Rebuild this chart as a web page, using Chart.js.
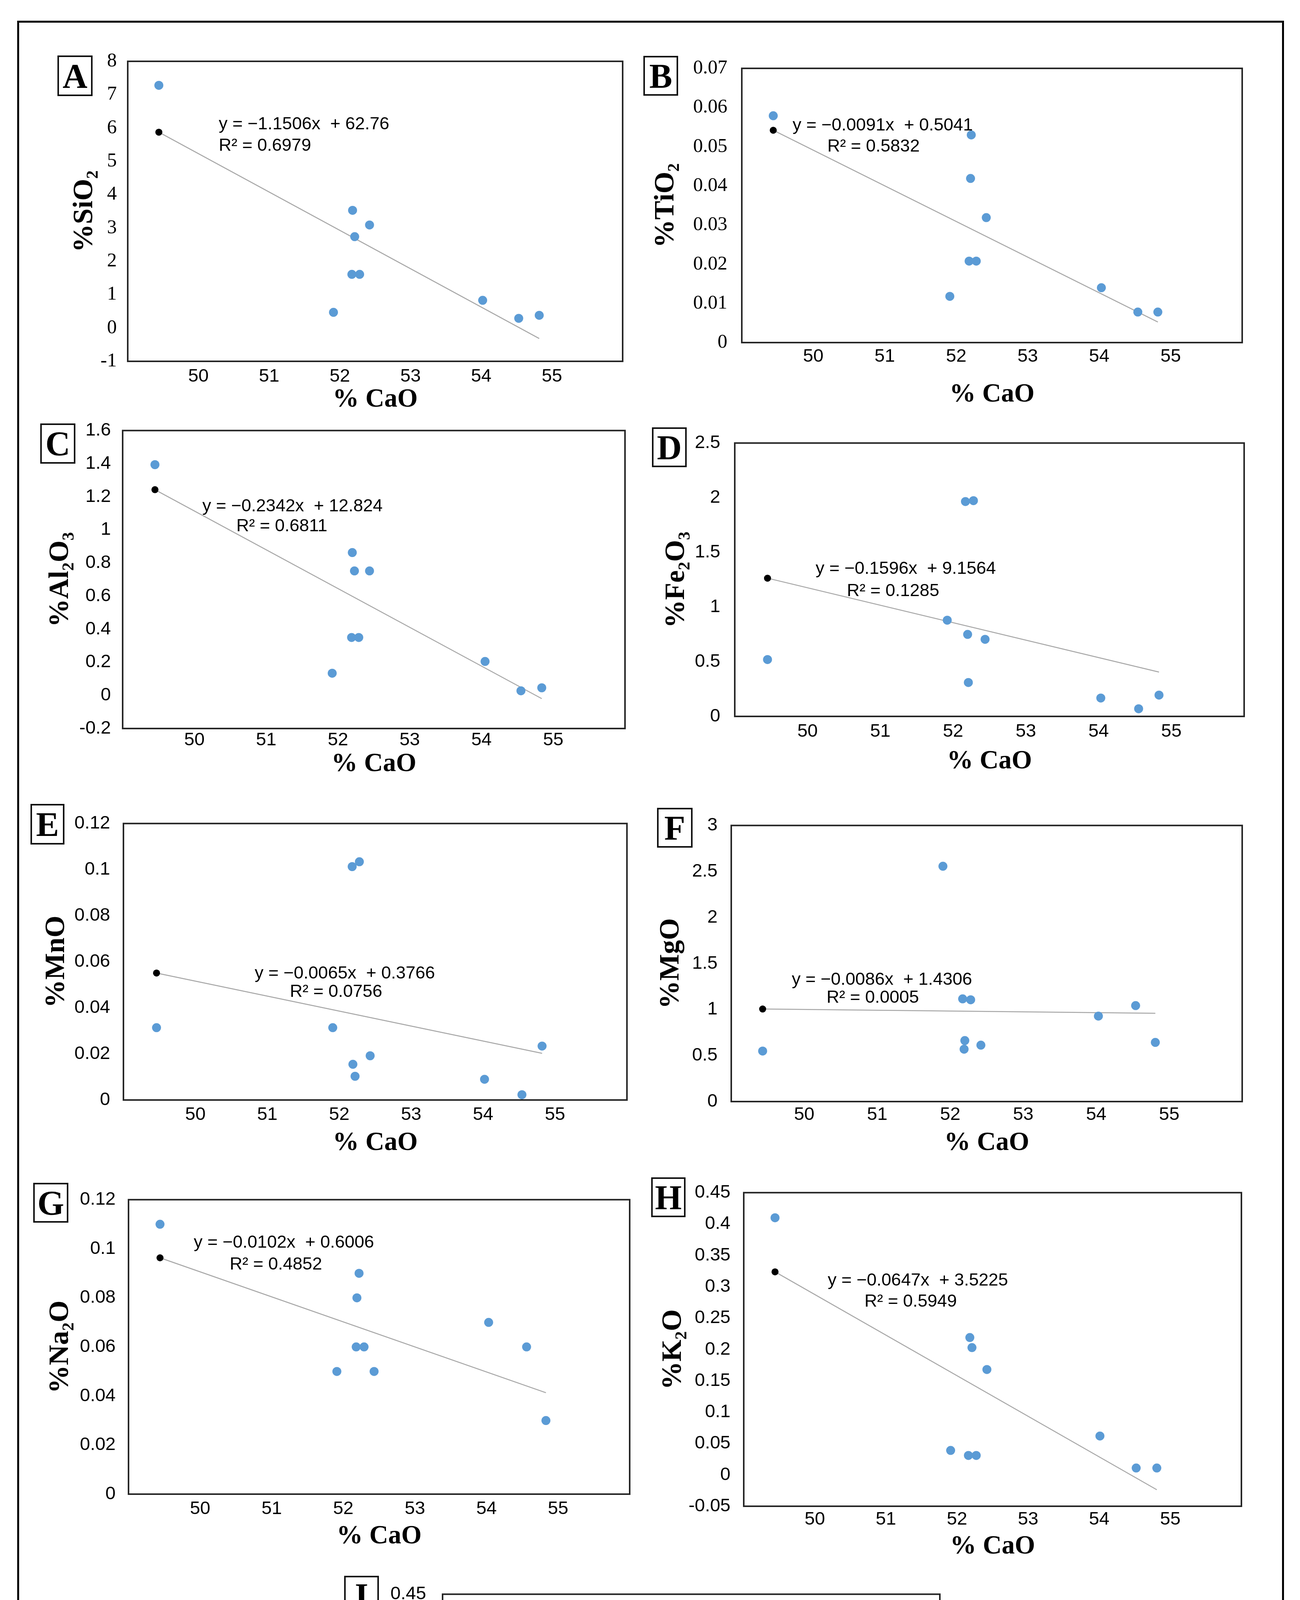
<!DOCTYPE html>
<html>
<head>
<meta charset="utf-8">
<script src="https://cdn.jsdelivr.net/npm/chart.js@4.4.1/dist/chart.umd.min.js"></script>
<style>
  body { margin: 0; width: 3328px; height: 5090px; background: #fff; position: relative; overflow: hidden; }
  #frame { position: absolute; left: 44px; top: 53px; width: 3243px; height: 4988px; border: 5px solid #000; box-sizing: border-box; }
  .tag { position: absolute; border: 4px solid #111; box-sizing: border-box; font: bold 88px "Liberation Serif", serif; display: flex; align-items: center; justify-content: center; background: #fff; color: #000; }
  canvas { position: absolute; }
</style>
</head>
<body>
<div id="frame"></div>
<script>
// % CaO values as read for each panel (x) and the oxide values (y)
const caoA = [49.44, 52.18, 52.42, 52.21, 52.17, 52.28, 51.91, 54.02, 54.53, 54.82];
const sio2 = [7.28, 3.53, 3.09, 2.74, 1.61, 1.61, 0.47, 0.83, 0.29, 0.38];

const caoB = [49.44, 52.21, 52.2, 52.42, 52.18, 52.28, 51.91, 54.03, 54.54, 54.82];
const tio2 = [0.0579, 0.053, 0.0419, 0.0319, 0.0208, 0.0208, 0.0118, 0.014, 0.0078, 0.0078];

const caoC = [49.45, 52.2, 52.23, 52.44, 52.19, 52.29, 51.92, 54.05, 54.55, 54.84];
const al2o3 = [1.394, 0.863, 0.752, 0.752, 0.35, 0.35, 0.134, 0.205, 0.028, 0.046];

const caoD = [49.45, 52.17, 52.28, 51.92, 52.2, 52.44, 52.21, 54.03, 54.55, 54.83];
const fe2o3 = [0.52, 1.965, 1.973, 0.88, 0.75, 0.705, 0.31, 0.168, 0.07, 0.195];

const caoE = [49.46, 52.18, 52.28, 51.91, 52.19, 52.22, 52.43, 54.02, 54.54, 54.82];
const mno = [0.0314, 0.1013, 0.1034, 0.0314, 0.0155, 0.0103, 0.0192, 0.009, 0.0023, 0.0234];

const caoF = [49.43, 51.9, 52.17, 52.28, 52.2, 52.19, 52.42, 54.03, 54.54, 54.81];
const mgo = [0.549, 2.557, 1.116, 1.106, 0.663, 0.569, 0.613, 0.929, 1.043, 0.643];

const caoG = [49.44, 52.22, 52.19, 52.18, 52.29, 51.91, 52.43, 54.03, 54.56, 54.83];
const na2o = [0.11, 0.09, 0.08, 0.06, 0.06, 0.05, 0.05, 0.07, 0.06, 0.03];

const caoH = [49.44, 52.18, 52.21, 52.42, 51.91, 52.16, 52.27, 54.01, 54.52, 54.81];
const k2o = [0.41, 0.219, 0.203, 0.168, 0.039, 0.031, 0.031, 0.062, 0.011, 0.011];

const caoI = [49.43, 52.18, 52.21, 52.42, 51.91, 52.16, 52.27, 54.02, 54.53, 54.82];
const p2o5 = [0.41, 0.22, 0.204, 0.169, 0.039, 0.031, 0.031, 0.062, 0.01, 0.01];

// linear trendlines (Excel)
const slopes = [-1.1506, -0.0091, -0.2342, -0.1596, -0.0065, -0.0086, -0.0102, -0.0647, -0.0647];
const intercepts = [62.76, 0.5041, 12.824, 9.1564, 0.3766, 1.4306, 0.6006, 3.5225, 3.5225];
const rSquared = ["0.6979", "0.5832", "0.6811", "0.1285", "0.0756", "0.0005", "0.4852", "0.5949", "0.5949"];

const panelNames = ["A", "B", "C", "D", "E", "F", "G", "H", "I"];
const yLabels = ["%SiO₂", "%TiO₂", "%Al₂O₃", "%Fe₂O₃", "%MnO", "%MgO", "%Na₂O", "%K₂O", "%P₂O₅"];
const xLabel = "% CaO";
const xRange = [49, 56];
const xTicks = [50, 51, 52, 53, 54, 55];
const yTicks = [
  [-1, 0, 1, 2, 3, 4, 5, 6, 7, 8],
  [0, 0.01, 0.02, 0.03, 0.04, 0.05, 0.06, 0.07],
  [-0.2, 0, 0.2, 0.4, 0.6, 0.8, 1, 1.2, 1.4, 1.6],
  [0, 0.5, 1, 1.5, 2, 2.5],
  [0, 0.02, 0.04, 0.06, 0.08, 0.1, 0.12],
  [0, 0.5, 1, 1.5, 2, 2.5, 3],
  [0, 0.02, 0.04, 0.06, 0.08, 0.1, 0.12],
  [-0.05, 0, 0.05, 0.1, 0.15, 0.2, 0.25, 0.3, 0.35, 0.4, 0.45],
  [-0.05, 0, 0.05, 0.1, 0.15, 0.2, 0.25, 0.3, 0.35, 0.4, 0.45],
];
const xSeries = [caoA, caoB, caoC, caoD, caoE, caoF, caoG, caoH, caoI];
const ySeries = [sio2, tio2, al2o3, fe2o3, mno, mgo, na2o, k2o, p2o5];

// page layout (pixels)
const layouts = [
  { plot: [327, 144, 1594, 925], yTitle: 110, yPad: 28, xTick: 39, xTitle: 99, box: [147, 142, 237, 246], eq: [233, 162, 233, 217], serif: true },
  { plot: [1899, 153, 3180, 877], yTitle: 194, yPad: 37, xTick: 36, xTitle: 134, box: [1647, 143, 1736, 245], eq: [130, 147, 219, 201], serif: true },
  { plot: [314, 1089, 1600, 1865], yTitle: 159, yPad: 30, xTick: 30, xTitle: 92, box: [103, 1084, 193, 1187], eq: [204, 194, 291, 245], serif: false },
  { plot: [1881, 1114, 3185, 1834], yTitle: 149, yPad: 37, xTick: 39, xTitle: 116, box: [1669, 1094, 1758, 1196], eq: [207, 322, 287, 379], serif: false },
  { plot: [316, 2091, 1605, 2816], yTitle: 171, yPad: 34, xTick: 38, xTitle: 111, box: [78, 2058, 165, 2162], eq: [336, 384, 426, 431], serif: false },
  { plot: [1872, 2095, 3180, 2820], yTitle: 154, yPad: 35, xTick: 34, xTitle: 107, box: [1682, 2068, 1773, 2170], eq: [155, 395, 244, 441], serif: false },
  { plot: [329, 3055, 1612, 3825], yTitle: 174, yPad: 33, xTick: 38, xTitle: 109, box: [85, 3028, 175, 3130], eq: [167, 110, 259, 166], serif: false },
  { plot: [1904, 3036, 3178, 3856], yTitle: 180, yPad: 34, xTick: 34, xTitle: 104, box: [1667, 3014, 1755, 3116], eq: [215, 225, 309, 279], serif: false },
  { plot: [1133, 4056, 2406, 4877], yTitle: 199, yPad: 42, xTick: 33, xTitle: 112, box: [881, 4034, 970, 4135], eq: [165, 206, 269, 251], serif: false },
];

const framePlugin = {
  id: "frame",
  beforeDatasetsDraw(chart) {
    const { ctx, chartArea: a } = chart;
    ctx.save();
    ctx.strokeStyle = "#262626";
    ctx.lineWidth = 4;
    ctx.strokeRect(a.left, a.top, a.right - a.left, a.bottom - a.top);
    ctx.restore();
  },
};

const eqPlugin = {
  id: "eqn",
  afterDatasetsDraw(chart, args, opts) {
    const { ctx, chartArea: a } = chart;
    ctx.save();
    ctx.fillStyle = "#000";
    ctx.font = '45px "Liberation Sans", Arial, sans-serif';
    ctx.textBaseline = "middle";
    ctx.textAlign = "left";
    ctx.fillText(opts.lines[0], a.left + opts.pos[0], a.top + opts.pos[1]);
    ctx.fillText(opts.lines[1], a.left + opts.pos[2], a.top + opts.pos[3]);
    ctx.restore();
  },
};

function fmt(v) {
  return String(parseFloat(Number(v).toFixed(4)));
}

function makePanel(i) {
  const lay = layouts[i];
  const [l, t, r, b] = lay.plot;
  const L = lay.yTitle + 43;
  const T = 45;
  const R = 30;
  const B = lay.xTitle + 40;

  const tag = document.createElement("div");
  tag.className = "tag";
  tag.textContent = panelNames[i];
  tag.style.left = lay.box[0] + "px";
  tag.style.top = lay.box[1] + "px";
  tag.style.width = lay.box[2] - lay.box[0] + "px";
  tag.style.height = lay.box[3] - lay.box[1] + "px";
  document.body.appendChild(tag);

  const cv = document.createElement("canvas");
  cv.width = r - l + L + R;
  cv.height = b - t + T + B;
  cv.style.width = cv.width + "px";
  cv.style.height = cv.height + "px";
  cv.style.left = l - L + "px";
  cv.style.top = t - T + "px";
  document.body.appendChild(cv);

  const xs = xSeries[i];
  const ys = ySeries[i];
  const pts = xs.map((x, k) => ({ x, y: ys[k] }));
  const x0 = Math.min(...xs);
  const x1 = Math.max(...xs);
  const trend = [
    { x: x0, y: slopes[i] * x0 + intercepts[i] },
    { x: x1, y: slopes[i] * x1 + intercepts[i] },
  ];
  const eqText = [
    "y = −" + fmt(Math.abs(slopes[i])) + "x  + " + fmt(intercepts[i]),
    "R² = " + rSquared[i],
  ];
  const ticksY = yTicks[i];
  const tickFamily = lay.serif ? '"Liberation Serif", serif' : '"Liberation Sans", Arial, sans-serif';

  new Chart(cv.getContext("2d"), {
    type: "scatter",
    data: {
      datasets: [
        {
          data: pts,
          backgroundColor: "#5b9bd5",
          borderWidth: 0,
          pointRadius: 11.5,
          pointHoverRadius: 11.5,
        },
        {
          data: trend,
          showLine: true,
          borderColor: "#a6a6a6",
          borderWidth: 2.5,
          pointRadius: [9, 0],
          pointBackgroundColor: "#000",
          pointBorderWidth: 0,
        },
      ],
    },
    options: {
      responsive: false,
      animation: false,
      devicePixelRatio: 1,
      layout: { padding: { left: 0, top: T, right: R, bottom: 0 } },
      plugins: {
        legend: { display: false },
        tooltip: { enabled: false },
        eqn: { lines: eqText, pos: lay.eq },
      },
      scales: {
        x: {
          type: "linear",
          position: "bottom",
          min: xRange[0],
          max: xRange[1],
          grid: { display: false, drawTicks: false },
          border: { display: false },
          afterBuildTicks: (s) => { s.ticks = xTicks.map((v) => ({ value: v })); },
          afterFit: (s) => { s.height = B; },
          ticks: {
            color: "#000",
            padding: lay.xTick - 28,
            maxRotation: 0,
            font: { family: '"Liberation Sans", Arial, sans-serif', size: 47 },
            callback: (v) => fmt(v),
          },
          title: {
            display: true,
            text: xLabel,
            color: "#000",
            padding: 0,
            font: { family: '"Liberation Serif", serif', size: 67, weight: "bold" },
          },
        },
        y: {
          type: "linear",
          min: ticksY[0],
          max: ticksY[ticksY.length - 1],
          grid: { display: false, drawTicks: false },
          border: { display: false },
          afterBuildTicks: (s) => { s.ticks = ticksY.map((v) => ({ value: v })); },
          afterFit: (s) => { s.width = L; },
          ticks: {
            color: "#000",
            padding: lay.yPad,
            font: { family: tickFamily, size: lay.serif ? 50 : 47 },
            callback: (v) => fmt(v),
          },
          title: {
            display: true,
            text: yLabels[i],
            color: "#000",
            padding: 0,
            font: { family: '"Liberation Serif", serif', size: 72, weight: "bold" },
          },
        },
      },
    },
    plugins: [framePlugin, eqPlugin],
  });
}

for (let i = 0; i < panelNames.length; i++) {
  makePanel(i);
}
</script>
</body>
</html>
